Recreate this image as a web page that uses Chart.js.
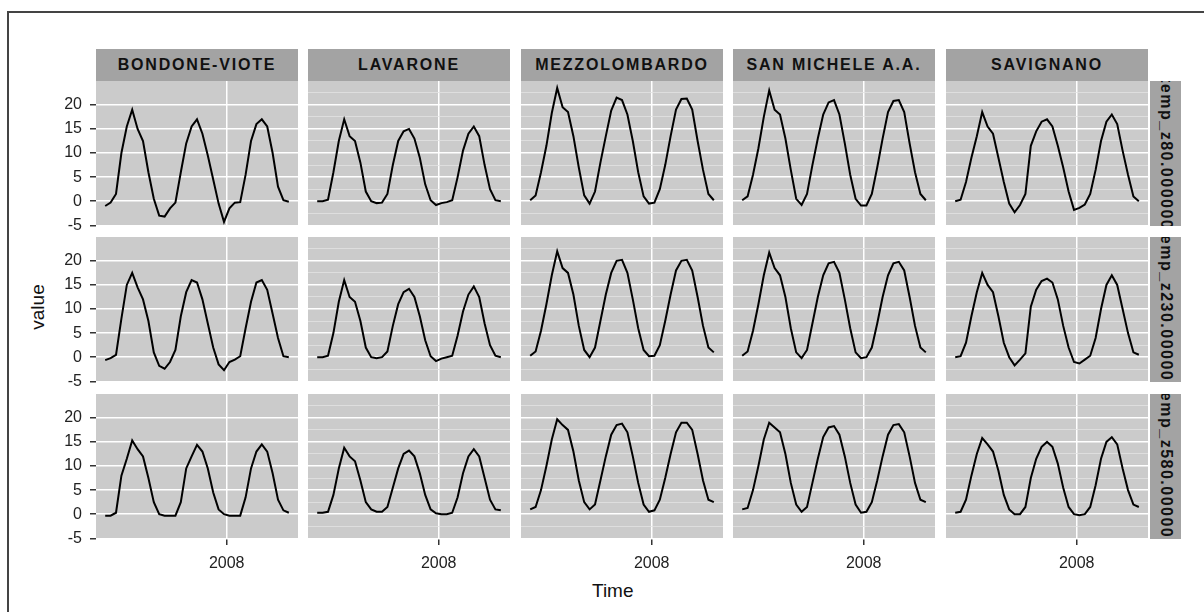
<!DOCTYPE html>
<html lang="en">
<head>
<meta charset="UTF-8">
<title>value by station and depth</title>
<script src="https://cdn.jsdelivr.net/npm/chart.js"></script>
<style>
  html, body { margin:0; padding:0; background:#fff; font-family:"Liberation Sans", Arial, sans-serif; }
  body { width:1204px; height:612px; position:relative; overflow:hidden; }
  #frame { position:absolute; left:7px; top:11px; width:1300px; height:700px;
           border-top:2px solid #444; border-left:2px solid #444; }
  .box { position:absolute; }
  .strip { position:absolute; top:49px; width:202px; height:32px; line-height:32px;
           background:#a3a3a3; color:#111; font-weight:bold; font-size:16px;
           letter-spacing:1.8px; text-align:center; white-space:nowrap; }
  .rstrip { position:absolute; left:1150px; width:31px; height:145px; background:#a3a3a3;
            overflow:hidden; writing-mode:vertical-rl; display:flex; align-items:center;
            justify-content:center; color:#111; font-weight:bold; font-size:16px;
            letter-spacing:1.5px; white-space:nowrap; }
  .title { position:absolute; color:#111; font-size:19px; }
</style>
</head>
<body>
<div id="frame"></div>
<div class="title" style="left:592px; top:580px;">Time</div>
<div class="title" style="left:15px; top:296px; transform:rotate(-90deg); transform-origin:center;">value</div>

<script>
// facet labels
const stations = ['BONDONE-VIOTE', 'LAVARONE', 'MEZZOLOMBARDO', 'SAN MICHELE A.A.', 'SAVIGNANO'];
const depths = ['temp_z80.000000', 'temp_z230.000000', 'temp_z580.000000'];

// monthly time axis
const months = [
  '2006-02','2006-03','2006-04','2006-05','2006-06','2006-07','2006-08','2006-09','2006-10','2006-11','2006-12',
  '2007-01','2007-02','2007-03','2007-04','2007-05','2007-06','2007-07','2007-08','2007-09','2007-10','2007-11','2007-12',
  '2008-01','2008-02','2008-03','2008-04','2008-05','2008-06','2008-07','2008-08','2008-09','2008-10','2008-11','2008-12'
];
const xTicks = [2008];
const yTicks = [-5, 0, 5, 10, 15, 20];

// values, one array per station and depth
const bondone80  = [-1.0,-0.3,1.5,10,15.5,19,15,12.5,6,0.5,-3,-3.2,-1.5,-0.3,6,12,15.5,17,14,9.5,4.5,-0.5,-4.3,-1.5,-0.3,-0.2,5.5,12.5,16,17,15.5,10,3,0.2,-0.1];
const bondone230 = [-0.6,-0.2,0.5,8,15,17.5,14.5,12,7.5,1,-1.8,-2.4,-1,1.5,8.5,13.5,16,15.5,12,7,2,-1.5,-2.7,-1,-0.5,0.2,6,11.5,15.5,16,14,9,4,0.2,0];
const bondone580 = [-0.3,-0.3,0.3,8,11.5,15.3,13.5,12,7.5,2.5,0,-0.3,-0.3,-0.3,2.5,9.5,12,14.4,13,9.5,4.5,1,0,-0.3,-0.3,-0.3,3.5,9.5,13,14.5,13,8.5,3,0.8,0.3];

const lavarone80  = [0,0,0.3,6,12.5,17,13.5,12.5,8,2,0,-0.4,-0.3,1.5,7.5,12.5,14.5,15,13,9,3.5,0.2,-0.8,-0.4,-0.2,0.2,5,10.5,14,15.5,13.5,7.5,2.5,0.2,0];
const lavarone230 = [0,0,0.3,5,11.5,16,12.5,11.5,7.5,2,0,-0.2,0,1.2,6.5,11,13.5,14.2,12.5,8.5,3.5,0.2,-0.8,-0.3,0,0.3,4.5,9.5,13,14.7,12.5,7,2.5,0.3,0];
const lavarone580 = [0.3,0.3,0.5,4,9.5,13.8,12,11,7,2.5,1,0.5,0.5,1.5,5.5,9.5,12.5,13.2,12,8.5,4,1,0.2,0,0,0.3,3.5,8.5,12,13.5,12,7.5,3,1,0.8];

const mezzo80  = [0.2,1.2,6,11.5,18.3,23.5,19.5,18.5,13.5,7,1.2,-0.5,2,8,13.5,18.8,21.5,21,18,12.5,6,1,-0.5,-0.3,2.5,7.5,13.5,19,21.2,21.3,19,12.5,6.5,1.5,0.2];
const mezzo230 = [0.3,1.2,5.5,11,17,22,18.5,17.5,13,6.5,1.5,0,2,7.5,13,17.5,20,20.2,17.5,12,6,1.5,0.2,0.3,2.5,7.5,13,18,20,20.2,18,12.5,6.5,2,1];
const mezzo580 = [1,1.5,5,10,15.5,19.7,18.5,17.5,13,7,2.5,1,2,7,12,16.5,18.5,18.8,17,12,6.5,2,0.5,0.8,3,7.5,12.5,17,19,19,17.5,12.5,7,3,2.5];

const michele80  = [0.2,1,5.5,11,17.5,23,19,18,13,6.5,0.5,-0.8,1.5,7.5,13,18,20.5,21,18,12,5.5,0.5,-0.9,-0.9,1.5,7,13,18.5,20.8,21,18.5,12,6,1.5,0.2];
const michele230 = [0.3,1.2,5.5,11,17,21.7,18.5,17,12.5,6,1,-0.2,1.5,7,12.5,17,19.5,19.8,17.5,12,6,1,-0.2,0,2,7,12.5,17,19.5,19.8,18,12.5,6.5,2,1];
const michele580 = [1,1.3,5,10,15.5,19,18,17,12.5,6.5,2,0.5,1.5,6.5,11.5,16,18,18.3,16.5,12,6.5,2,0.3,0.5,2.5,7,12,16.5,18.5,18.7,17,12,6.5,3,2.5];

const savignano80  = [0,0.3,4,9,13.5,18.5,15.5,14,9,4,-0.5,-2.3,-0.8,1.5,11.5,14.5,16.5,17,15.5,11.5,7,2,-1.8,-1.4,-0.7,1.5,6.5,12.5,16.5,18,16,10.5,5.5,1,0];
const savignano230 = [0,0.2,3,8.5,13.5,17.5,15,13.5,8.5,3,0,-1.7,-0.5,0.8,10.5,14,15.8,16.3,15.5,12,6.5,2,-1,-1.3,-0.5,0.3,4,10,15,17,15,10,5,1,0.5];
const savignano580 = [0.3,0.5,3,8,12.5,15.8,14.5,13,9,4,1,0,0,1.5,7.5,11.5,14,15,14,10.5,5.5,1.5,0,-0.2,0,1.5,6,11.5,15,16,14.5,9.5,5,2,1.5];

const grid = [
  [bondone80,  lavarone80,  mezzo80,  michele80,  savignano80],
  [bondone230, lavarone230, mezzo230, michele230, savignano230],
  [bondone580, lavarone580, mezzo580, michele580, savignano580]
];

// panel geometry
const colLeft = [96, 308, 521, 733, 946];
const rowTop = [81, 237, 394];
const panelW = 202, panelH = 145, axisW = 60, axisH = 40, labelRoom = 10;
const xMin = 2005.983, xMax = 2009.1, yMin = -5.15, yMax = 24.95;

const monthX = months.map(m => {
  const [y, mo] = m.split('-').map(Number);
  return y + (mo - 0.5) / 12;
});

const panelBg = {
  id: 'panelBg',
  beforeDraw(chart) {
    const { ctx, chartArea: a } = chart;
    ctx.save();
    ctx.fillStyle = '#cbcbcb';
    ctx.fillRect(a.left, a.top, a.width, a.height);
    ctx.restore();
  }
};

const isMajor = v => yTicks.includes(v);

function makePanel(r, c) {
  const firstCol = c === 0, lastRow = r === 2;
  // room under the panel: x labels on the last row, the "-5" label on the first column
  const below = lastRow ? axisH : (firstCol ? labelRoom : 0);
  const w = panelW + (firstCol ? axisW : 0);
  const h = panelH + below;
  const box = document.createElement('div');
  box.className = 'box';
  box.style.left = (colLeft[c] - (firstCol ? axisW : 0)) + 'px';
  box.style.top = rowTop[r] + 'px';
  box.style.width = w + 'px';
  box.style.height = h + 'px';
  const cv = document.createElement('canvas');
  box.appendChild(cv);
  document.body.appendChild(box);

  const vals = grid[r][c];
  new Chart(cv, {
    type: 'line',
    data: {
      datasets: [{
        data: monthX.map((x, i) => ({ x: x, y: vals[i] })),
        borderColor: '#000',
        borderWidth: 2,
        pointRadius: 0,
        tension: 0
      }]
    },
    options: {
      responsive: true,
      maintainAspectRatio: false,
      animation: false,
      devicePixelRatio: 1,
      layout: { padding: 0, autoPadding: false },
      plugins: { legend: { display: false }, tooltip: { enabled: false } },
      scales: {
        x: {
          type: 'linear', min: xMin, max: xMax,
          afterBuildTicks: s => { s.ticks = xTicks.map(v => ({ value: v })); },
          afterFit: s => { s.height = below; s.paddingLeft = 0; s.paddingRight = 0; },
          border: { display: false },
          grid: { color: '#ffffff', lineWidth: 1.5, drawTicks: lastRow, tickLength: 6, tickColor: '#333', tickWidth: 1.5 },
          ticks: { display: lastRow, padding: 9, color: '#222', font: { size: 16, family: 'Liberation Sans' },
                   callback: v => String(v) }
        },
        y: {
          min: yMin, max: yMax,
          afterFit: s => { s.width = firstCol ? axisW : 0; s.paddingTop = 0; s.paddingBottom = 0; },
          border: { display: false },
          grid: {
            color: ctx => isMajor(ctx.tick.value) ? '#ffffff' : '#e2e2e2',
            lineWidth: ctx => isMajor(ctx.tick.value) ? 1.5 : 0.8,
            drawTicks: firstCol, tickLength: 6, tickWidth: 1.5,
            tickColor: ctx => isMajor(ctx.tick.value) ? '#333' : 'rgba(0,0,0,0)'
          },
          ticks: { display: firstCol, stepSize: 2.5, includeBounds: false, padding: 8, color: '#222',
                   font: { size: 16, family: 'Liberation Sans' },
                   callback: v => isMajor(v) ? String(v) : '' }
        }
      }
    },
    plugins: [panelBg]
  });
}

stations.forEach((name, c) => {
  const d = document.createElement('div');
  d.className = 'strip';
  d.style.left = colLeft[c] + 'px';
  d.textContent = name;
  document.body.appendChild(d);
});

depths.forEach((name, r) => {
  const d = document.createElement('div');
  d.className = 'rstrip';
  d.style.top = rowTop[r] + 'px';
  const s = document.createElement('span');
  s.textContent = name;
  d.appendChild(s);
  document.body.appendChild(d);
});

for (let r = 0; r < 3; r++) {
  for (let c = 0; c < 5; c++) makePanel(r, c);
}
</script>
</body>
</html>
